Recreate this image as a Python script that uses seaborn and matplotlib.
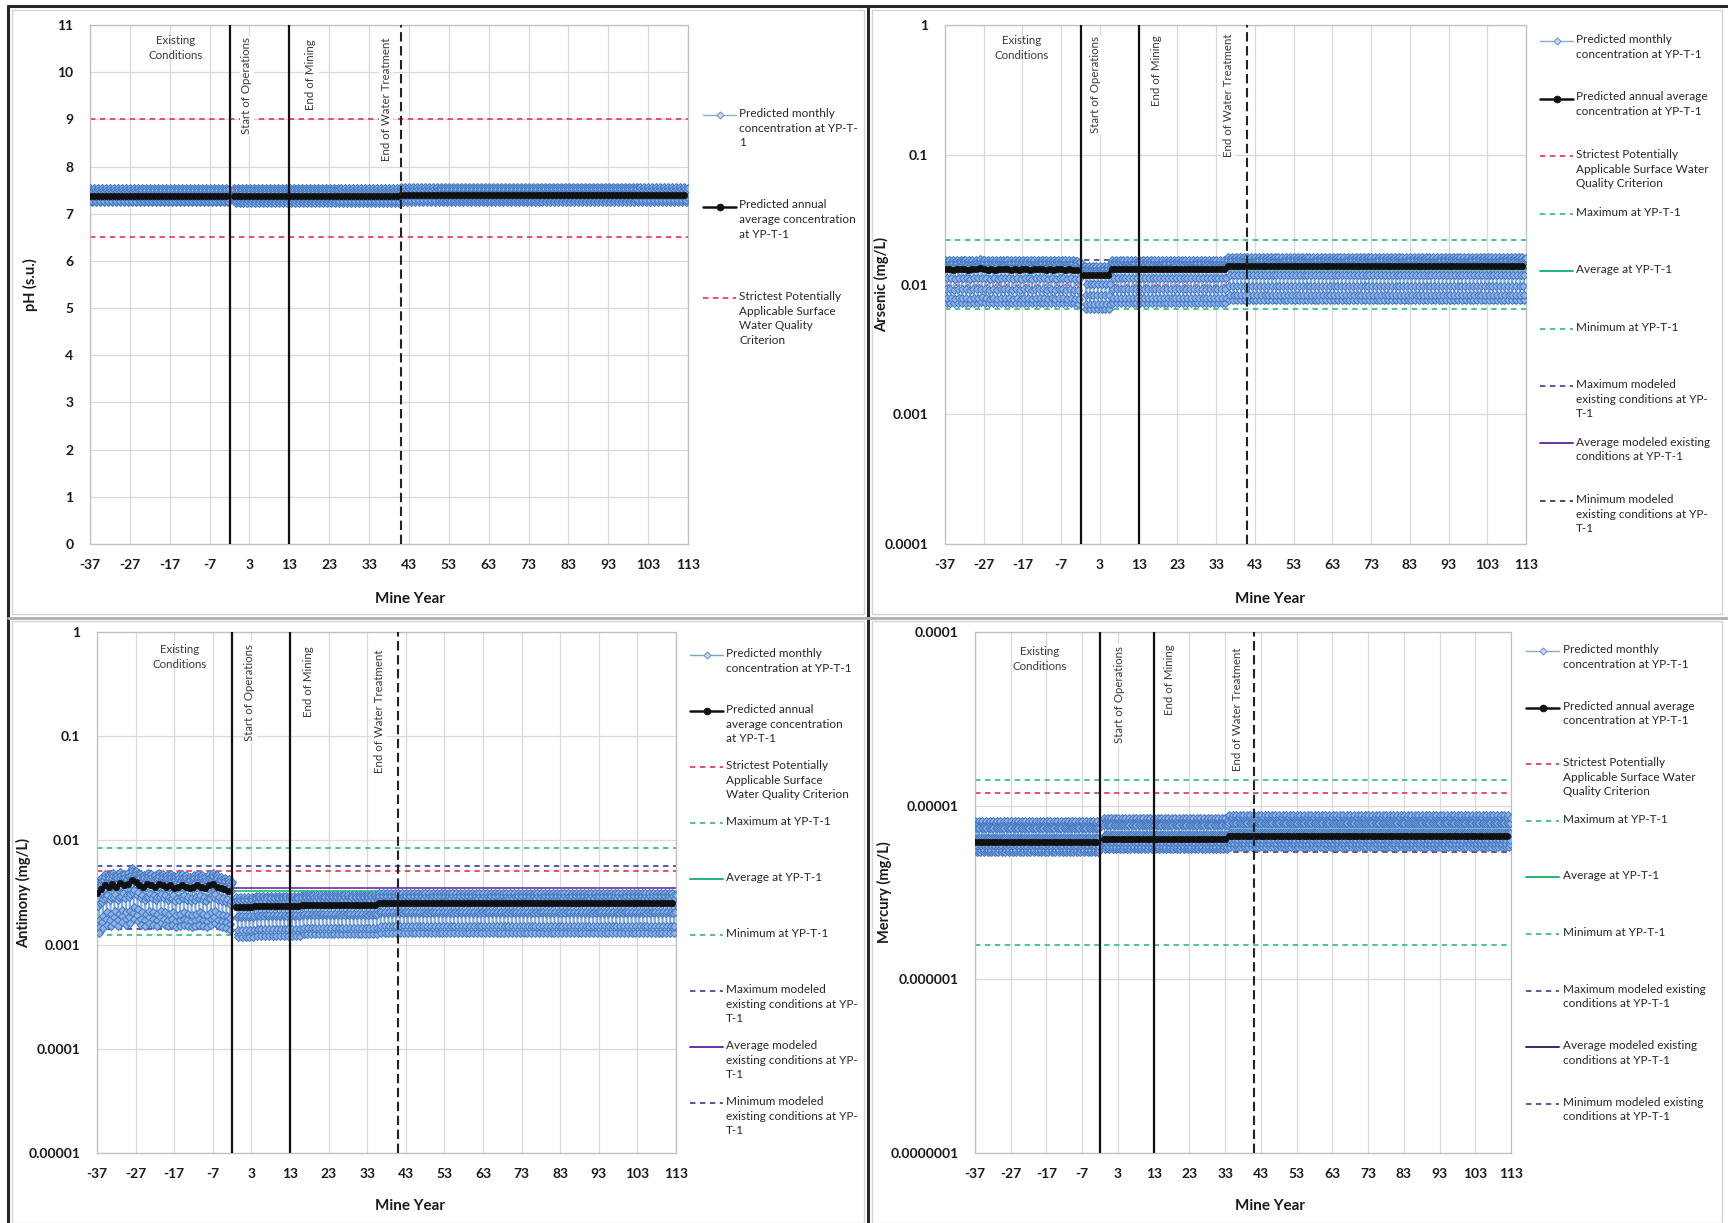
import numpy as np
import pandas as pd
import matplotlib
matplotlib.use("Agg")
import matplotlib.pyplot as plt
import matplotlib.transforms as mtransforms
from matplotlib.lines import Line2D
from matplotlib.patches import Rectangle
import seaborn as sns

sns.set_theme(style="white")
plt.rcParams["font.family"] = ["Lato", "DejaVu Sans"]

W, H = 1728, 1223

# ------------------------------------------------------------------ data
YEARS_EXIST = list(range(-37, -2))    # existing-conditions model years (35)
YEARS_OPS = list(range(-1, 113))      # operations / post-closure years (114)
X_TICKS = [-37, -27, -17, -7, 3, 13, 23, 33, 43, 53, 63, 73, 83, 93, 103, 113]
EVENT_START_OPS = -2
EVENT_END_MINING = 13
EVENT_END_WT = 41

# pH
PH_ANNUAL_EXIST = [7.38] * 35
PH_ANNUAL_OPS = [7.37] * 42 + [7.39] * 72
PH_MONTH_FACTOR = [1.020, 1.023, 1.018, 1.008, 0.992, 0.984, 0.982, 0.986, 0.994, 1.004, 1.014, 1.020]
PH_CRITERIA = [9.0, 6.5]

# Arsenic (mg/L)
AS_ANNUAL_EXIST = [0.0132, 0.0131, 0.0130, 0.0131, 0.0132, 0.0131, 0.0130, 0.0131, 0.0132, 0.0133,
                   0.0131, 0.0130, 0.0131, 0.0130, 0.0131, 0.0132, 0.0131, 0.0130, 0.0131, 0.0130,
                   0.0131, 0.0131, 0.0130, 0.0131, 0.0132, 0.0131, 0.0130, 0.0131, 0.0130, 0.0131,
                   0.0131, 0.0130, 0.0131, 0.0130, 0.0129]
AS_ANNUAL_OPS = [0.0118] * 7 + [0.0131] * 30 + [0.0139] * 77
AS_MONTH_FACTOR = [1.15, 1.18, 1.12, 1.05, 0.70, 0.55, 0.60, 0.85, 1.02, 1.10, 1.14, 1.16]
AS_CRITERION = 0.010
AS_MAX, AS_AVG, AS_MIN = 0.022, 0.0127, 0.0065
AS_MOD_MAX, AS_MOD_AVG, AS_MOD_MIN = 0.0155, 0.0135, 0.0072

# Antimony (mg/L)
SB_ANNUAL_EXIST = [0.0031, 0.0034, 0.0037, 0.0036, 0.0038, 0.0036, 0.0039, 0.0037, 0.0038, 0.0042,
                   0.0040, 0.0037, 0.0036, 0.0038, 0.0037, 0.0036, 0.0038, 0.0037, 0.0036, 0.0037,
                   0.0035, 0.0036, 0.0037, 0.0036, 0.0035, 0.0036, 0.0037, 0.0036, 0.0035, 0.0037,
                   0.0038, 0.0036, 0.0035, 0.0034, 0.0033]
SB_ANNUAL_OPS = [0.00228] * 5 + [0.00235] * 12 + [0.00241] * 20 + [0.00250] * 77
SB_FACTOR_EXIST = [1.25, 1.28, 1.20, 1.05, 0.75, 0.48, 0.42, 0.55, 0.80, 1.00, 1.15, 1.22]
SB_FACTOR_OPS = [1.22, 1.25, 1.18, 1.05, 0.80, 0.56, 0.52, 0.60, 0.82, 1.00, 1.12, 1.20]
SB_CRITERION = 0.0051
SB_MAX, SB_AVG, SB_MIN = 0.0084, 0.00327, 0.00123
SB_MOD_MAX, SB_MOD_AVG, SB_MOD_MIN = 0.0057, 0.0035, 0.0014

# Mercury (mg/L)
HG_ANNUAL_EXIST = [6.2e-6] * 35
HG_ANNUAL_OPS = [6.45e-6] * 35 + [6.65e-6] * 79
HG_MONTH_FACTOR = [1.30, 1.32, 1.20, 1.05, 0.92, 0.88, 0.87, 0.90, 0.95, 1.05, 1.20, 1.28]
HG_CRITERION = 1.18e-5
HG_MAX, HG_AVG, HG_MIN = 1.40e-5, 7.4e-6, 1.58e-6
HG_MOD_MAX, HG_MOD_AVG, HG_MOD_MIN = 8.2e-6, 6.1e-6, 5.4e-6

# ------------------------------------------------------------------ styles
ST_MONTH = dict(color="#86ABDD", lw=1.0, marker="D", markersize=4.2,
                markerfacecolor="#8FB3E6", markeredgecolor="#4A7CC4", markeredgewidth=0.8)
ST_ANNUAL = dict(color="#111111", lw=2.3, marker="o", markersize=4.6,
                 markerfacecolor="#111111", markeredgecolor="#111111", markeredgewidth=0.5)
ST_CRIT = dict(color="#E8415F", lw=1.3, ls=(0, (3, 2.5)))
ST_MAX = dict(color="#3CC08A", lw=1.3, ls=(0, (3, 2.5)))
ST_AVG = dict(color="#22B573", lw=1.4, ls="-")
ST_MIN = dict(color="#3CC08A", lw=1.3, ls=(0, (3, 2.5)))
ST_MMAX = dict(color="#4B4BA0", lw=1.3, ls=(0, (3, 2.5)))
ST_MAVG = dict(color="#6A2FA6", lw=1.4, ls="-")
ST_MMIN = dict(color="#5A3C96", lw=1.3, ls=(0, (3, 2.5)))


def monthly(years, annual, factor):
    x = [y + m / 12.0 for y in years for m in range(12)]
    v = [a * f for a in annual for f in factor]
    return pd.DataFrame({"year": x, "value": v})


def annual_df(years, annual):
    return pd.DataFrame({"year": years, "value": annual})


def px_axes(left, right, top, bottom):
    return [left / W, 1 - bottom / H, (right - left) / W, (bottom - top) / H]


fig = plt.figure(figsize=(W / 100, H / 100), dpi=100)
fig.patch.set_facecolor("white")

ax_ph = fig.add_axes(px_axes(90, 688, 25, 544))
ax_as = fig.add_axes(px_axes(945, 1526, 25, 544))
ax_sb = fig.add_axes(px_axes(97, 676, 632, 1153))
ax_hg = fig.add_axes(px_axes(975, 1511, 632, 1153))


def draw_series(ax, exist_df, ops_df, ann_exist, ann_ops):
    for d in (exist_df, ops_df):
        sns.lineplot(data=d, x="year", y="value", ax=ax, estimator=None, sort=False,
                     zorder=3, **ST_MONTH)
    for d in (ann_exist, ann_ops):
        sns.lineplot(data=d, x="year", y="value", ax=ax, estimator=None, sort=False,
                     zorder=3.5, **ST_ANNUAL)


def setup(ax, ylabel, ylim, yticks, ylabels, log, ylab_x, xlab_x, xlab_y):
    ax.set_xlim(-37, 113)
    if log:
        ax.set_yscale("log")
    ax.set_ylim(*ylim)
    ax.set_xticks(X_TICKS)
    ax.set_xticklabels([str(t) for t in X_TICKS])
    ax.set_yticks(yticks)
    ax.set_yticklabels(ylabels)
    ax.minorticks_off()
    ax.grid(True, color="#D9D9D9", lw=0.9)
    ax.set_axisbelow(True)
    for s in ax.spines.values():
        s.set_color("#BFBFBF")
        s.set_linewidth(0.9)
    ax.tick_params(axis="both", length=0, labelsize=10, colors="#1A1A1A")
    ax.tick_params(axis="x", pad=11)
    ax.tick_params(axis="y", pad=12)
    for lab in ax.get_xticklabels() + ax.get_yticklabels():
        lab.set_fontweight("bold")
    ax.set_xlabel("Mine Year", fontsize=11, fontweight="bold", color="#1A1A1A")
    ax.set_ylabel(ylabel, fontsize=10.5, fontweight="bold", color="#1A1A1A")
    ax.yaxis.set_label_coords(ylab_x, 0.5)
    ax.xaxis.set_label_coords(xlab_x, xlab_y)
    # event lines
    ax.axvline(EVENT_START_OPS, color="#111111", lw=1.6, zorder=5)
    ax.axvline(EVENT_END_MINING, color="#111111", lw=1.6, zorder=5)
    ax.axvline(EVENT_END_WT, color="#222222", lw=1.5, ls=(0, (4.5, 2.2)), zorder=5)


def annotate(ax, x_exist, y_exist, pos):
    tr = mtransforms.blended_transform_factory(ax.transData, ax.transAxes)
    kw = dict(transform=tr, fontsize=8.3, color="#3A3A3A", zorder=4)
    box = dict(facecolor="white", edgecolor="none", pad=1.2)
    ax.text(x_exist, y_exist, "Existing\nConditions", ha="center", va="top",
            linespacing=1.45, **kw)
    labels = ["Start of Operations", "End of Mining", "End of Water Treatment"]
    for (x, y), lab in zip(pos, labels):
        ax.text(x, y, lab, rotation=90, ha="center", va="top", bbox=box, **kw)


def hlines(ax, items):
    for val, st in items:
        ax.axhline(val, zorder=2.5, **st)


def legend(items, hx0, hx1, tx, y0, dy):
    for i, (label, st) in enumerate(items):
        yc = y0 + i * dy
        fy = 1 - yc / H
        st2 = dict(st)
        mk = st2.pop("marker", None)
        ms = st2.pop("markersize", None)
        mfc = st2.pop("markerfacecolor", None)
        mec = st2.pop("markeredgecolor", None)
        mew = st2.pop("markeredgewidth", None)
        st2["lw"] = min(st2.get("lw", 1.3), 1.8)
        ln = Line2D([hx0 / W, (hx0 + hx1) / 2 / W, hx1 / W], [fy, fy, fy],
                    transform=fig.transFigure, **st2)
        if mk is not None:
            ln.set_marker(mk)
            ln.set_markevery([1])
            ln.set_markersize(ms * 0.85 if mk == "D" else ms + 0.4)
            if mk == "D":
                ln.set_markerfacecolor("#C9DAF2")
                ln.set_markeredgecolor("#6F98D0")
            else:
                ln.set_markerfacecolor(mfc)
                ln.set_markeredgecolor(mec)
            if mew:
                ln.set_markeredgewidth(mew)
        fig.add_artist(ln)
        fig.text(tx / W, 1 - (yc - 7) / H, label, ha="left", va="top",
                 fontsize=8.5, linespacing=1.4, color="#262626")


# ---------------- pH panel
ph_m_e = monthly(YEARS_EXIST, PH_ANNUAL_EXIST, PH_MONTH_FACTOR)
ph_m_o = monthly(YEARS_OPS, PH_ANNUAL_OPS, PH_MONTH_FACTOR)
hlines(ax_ph, [(v, ST_CRIT) for v in PH_CRITERIA])
draw_series(ax_ph, ph_m_e, ph_m_o, annual_df(YEARS_EXIST, PH_ANNUAL_EXIST),
            annual_df(YEARS_OPS, PH_ANNUAL_OPS))
setup(ax_ph, "pH (s.u.)", (0, 11), list(range(0, 12)), [str(v) for v in range(0, 12)],
      False, -0.087, 0.535, -0.092)
annotate(ax_ph, -15.5, 0.981, [(2.3, 0.976), (18.4, 0.972), (37.3, 0.976)])

# ---------------- Arsenic panel
as_m_e = monthly(YEARS_EXIST, AS_ANNUAL_EXIST, AS_MONTH_FACTOR)
as_m_o = monthly(YEARS_OPS, AS_ANNUAL_OPS, AS_MONTH_FACTOR)
hlines(ax_as, [(AS_CRITERION, ST_CRIT), (AS_MAX, ST_MAX), (AS_MIN, ST_MIN),
               (AS_MOD_MAX, ST_MMAX), (AS_MOD_MIN, ST_MMIN)])
draw_series(ax_as, as_m_e, as_m_o, annual_df(YEARS_EXIST, AS_ANNUAL_EXIST),
            annual_df(YEARS_OPS, AS_ANNUAL_OPS))
hlines(ax_as, [(AS_AVG, dict(ST_AVG, lw=1.2)), (AS_MOD_AVG, dict(ST_MAVG, lw=1.2))])
setup(ax_as, "Arsenic (mg/L)", (1e-4, 1), [1e-4, 1e-3, 1e-2, 1e-1, 1],
      ["0.0001", "0.001", "0.01", "0.1", "1"], True, -0.096, 0.559, -0.092)
annotate(ax_as, -17.2, 0.981, [(1.8, 0.978), (17.7, 0.981), (36.1, 0.983)])

# ---------------- Antimony panel
sb_m_e = monthly(YEARS_EXIST, SB_ANNUAL_EXIST, SB_FACTOR_EXIST)
sb_m_o = monthly(YEARS_OPS, SB_ANNUAL_OPS, SB_FACTOR_OPS)
hlines(ax_sb, [(SB_CRITERION, ST_CRIT), (SB_MAX, ST_MAX), (SB_MIN, ST_MIN),
               (SB_MOD_MAX, ST_MMAX), (SB_MOD_MIN, ST_MMIN)])
draw_series(ax_sb, sb_m_e, sb_m_o, annual_df(YEARS_EXIST, SB_ANNUAL_EXIST),
            annual_df(YEARS_OPS, SB_ANNUAL_OPS))
hlines(ax_sb, [(SB_AVG, dict(ST_AVG, lw=1.2)), (SB_MOD_AVG, dict(ST_MAVG, lw=1.2))])
setup(ax_sb, "Antimony (mg/L)", (1e-5, 1), [1e-5, 1e-4, 1e-3, 1e-2, 1e-1, 1],
      ["0.00001", "0.0001", "0.001", "0.01", "0.1", "1"], True, -0.114, 0.54, -0.089)
annotate(ax_sb, -15.5, 0.977, [(2.6, 0.977), (17.7, 0.972), (36.3, 0.967)])

# ---------------- Mercury panel
hg_m_e = monthly(YEARS_EXIST, HG_ANNUAL_EXIST, HG_MONTH_FACTOR)
hg_m_o = monthly(YEARS_OPS, HG_ANNUAL_OPS, HG_MONTH_FACTOR)
hlines(ax_hg, [(HG_CRITERION, ST_CRIT), (HG_MAX, ST_MAX), (HG_MIN, ST_MIN),
               (HG_MOD_MAX, ST_MMAX), (HG_MOD_MIN, ST_MMIN)])
draw_series(ax_hg, hg_m_e, hg_m_o, annual_df(YEARS_EXIST, HG_ANNUAL_EXIST),
            annual_df(YEARS_OPS, HG_ANNUAL_OPS))
hlines(ax_hg, [(HG_AVG, dict(ST_AVG, lw=1.2)), (HG_MOD_AVG, dict(ST_MAVG, lw=1.2))])
setup(ax_hg, "Mercury (mg/L)", (1e-7, 1e-4), [1e-7, 1e-6, 1e-5, 1e-4],
      ["0.0000001", "0.000001", "0.00001", "0.0001"], True, -0.155, 0.55, -0.089)
annotate(ax_hg, -19.0, 0.973, [(3.4, 0.973), (17.5, 0.977), (36.5, 0.970)])

# ---------------- legends
L_MONTH = "Predicted monthly\nconcentration at YP-T-1"
L_MAX = "Maximum at YP-T-1"
L_AVG = "Average at YP-T-1"
L_MIN = "Minimum at YP-T-1"

legend([("Predicted monthly\nconcentration at YP-T-\n1", ST_MONTH),
        ("Predicted annual\naverage concentration\nat YP-T-1", ST_ANNUAL),
        ("Strictest Potentially\nApplicable Surface\nWater Quality\nCriterion", ST_CRIT)],
       703, 736, 739, 115, 91.5)

legend([(L_MONTH, ST_MONTH),
        ("Predicted annual average\nconcentration at YP-T-1", ST_ANNUAL),
        ("Strictest Potentially\nApplicable Surface Water\nQuality Criterion", ST_CRIT),
        (L_MAX, ST_MAX), (L_AVG, ST_AVG), (L_MIN, ST_MIN),
        ("Maximum modeled\nexisting conditions at YP-\nT-1", ST_MMAX),
        ("Average modeled existing\nconditions at YP-T-1", ST_MAVG),
        ("Minimum modeled\nexisting conditions at YP-\nT-1", dict(ST_MMIN, color="#404040"))],
       1540, 1573, 1576, 41, 57.5)

legend([(L_MONTH, dict(ST_MONTH, color="#6FA8B8")),
        ("Predicted annual\naverage concentration\nat YP-T-1", ST_ANNUAL),
        ("Strictest Potentially\nApplicable Surface\nWater Quality Criterion", ST_CRIT),
        (L_MAX, ST_MAX), (L_AVG, ST_AVG), (L_MIN, ST_MIN),
        ("Maximum modeled\nexisting conditions at YP-\nT-1", ST_MMAX),
        ("Average modeled\nexisting conditions at YP-\nT-1", ST_MAVG),
        ("Minimum modeled\nexisting conditions at YP-\nT-1", ST_MMIN)],
       690, 723, 726, 655, 56)

legend([(L_MONTH, ST_MONTH),
        ("Predicted annual average\nconcentration at YP-T-1", ST_ANNUAL),
        ("Strictest Potentially\nApplicable Surface Water\nQuality Criterion", ST_CRIT),
        (L_MAX, ST_MAX), (L_AVG, ST_AVG), (L_MIN, ST_MIN),
        ("Maximum modeled existing\nconditions at YP-T-1", ST_MMAX),
        ("Average modeled existing\nconditions at YP-T-1", dict(ST_MAVG, color="#2F2F6F")),
        ("Minimum modeled existing\nconditions at YP-T-1", ST_MMAX)],
       1526, 1559, 1563, 651, 56.6)

# ---------------- page frame
def fline(xs, ys, **kw):
    fig.add_artist(Line2D([x / W for x in xs], [1 - y / H for y in ys],
                          transform=fig.transFigure, **kw))

for (x0, y0, x1, y1) in [(12, 10, 864, 614), (872, 10, 1722, 614),
                         (12, 621, 864, 1223), (872, 621, 1722, 1223)]:
    fig.add_artist(Rectangle((x0 / W, 1 - y1 / H), (x1 - x0) / W, (y1 - y0) / H,
                             transform=fig.transFigure, fill=False,
                             edgecolor="#D4D4D4", lw=1.0))
fline([8, 1728], [6, 6], color="#262626", lw=2.2)
fline([8, 8], [6, 1223], color="#262626", lw=2.2)
fline([868, 868], [6, 1223], color="#262626", lw=2.2)
fline([8, 1728], [618, 618], color="#B0B0B0", lw=2.0)

fig.savefig("out.png", dpi=100, facecolor="white")
